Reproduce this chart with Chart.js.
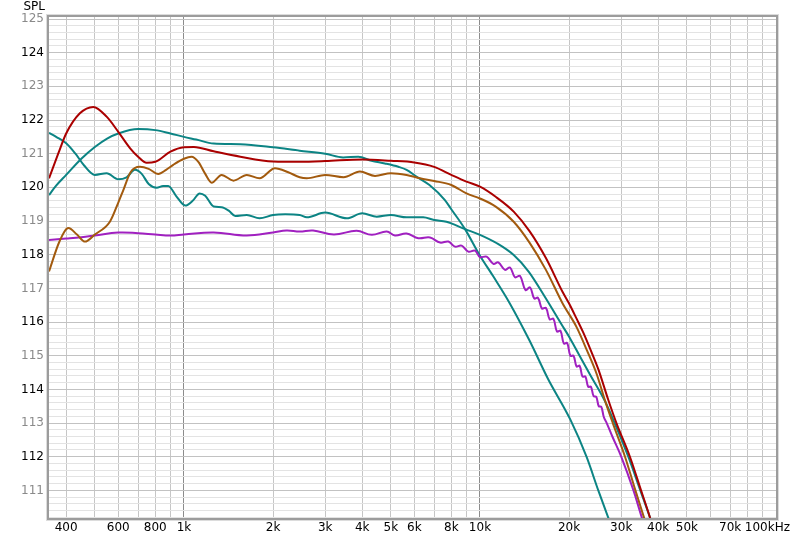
<!DOCTYPE html>
<html><head><meta charset="utf-8">
<script src="https://cdn.jsdelivr.net/npm/chart.js@4.4.1/dist/chart.umd.min.js"></script>
<style>html,body{margin:0;padding:0;background:#fff;overflow:hidden}canvas{display:block}</style>
</head><body>
<canvas id="c" width="800" height="541" style="width:800px;height:541px"></canvas>
<script>
// ---- axis ticks ----
const yLabelValues = [111,112,113,114,115,116,117,118,119,120,121,122,123,124,125];
const xTickValues = [400,600,800,1000,2000,3000,4000,5000,6000,8000,10000,20000,30000,40000,50000,70000,100000];
const xTickLabels = ['400','600','800','1k','2k','3k','4k','5k','6k','8k','10k','20k','30k','40k','50k','70k','100kHz'];
const xGridValues = [400,500,600,700,800,900,1000,2000,3000,4000,5000,6000,7000,8000,9000,10000,20000,30000,40000,50000,60000,70000,80000,90000,100000];

// ---- series (Hz, dB SPL) ----
const redFreq = [350,376,400,445,494,548,600,658,700,748,800,900,1000,1080,1260,1550,2000,2460,3000,4000,5000,6000,7000,8000,9000,10000,11300,13000,14700,16700,19000,20000,21200,22300,23700,25100,27100,28900,32100,35000,37500,38500];
const redSPL  = [120.27,121.0,121.6,122.2,122.39,122.1,121.65,121.16,120.91,120.73,120.76,121.06,121.19,121.2,121.07,120.91,120.77,120.76,120.78,120.83,120.79,120.74,120.61,120.37,120.17,120.02,119.72,119.28,118.7,117.9,116.9,116.55,116.1,115.7,115.15,114.6,113.7,113.0,112.0,111.0,110.2,109.85];

const brownFreq = [350,380,407,435,463,500,562,600,624,660,710,760,819,870,920,1000,1060,1120,1180,1240,1340,1470,1630,1800,2030,2250,2460,2600,3000,3460,3930,4420,5000,5650,6270,7000,8000,9000,10000,11300,13000,14700,16700,19000,21200,23000,24800,26400,28100,30900,33500,35800,37000];
const brownSPL  = [117.5,118.4,118.79,118.6,118.39,118.6,118.98,119.55,119.92,120.45,120.61,120.55,120.4,120.52,120.67,120.85,120.91,120.75,120.4,120.14,120.37,120.2,120.37,120.27,120.57,120.45,120.3,120.27,120.37,120.3,120.47,120.34,120.42,120.37,120.27,120.19,120.07,119.82,119.67,119.43,118.98,118.36,117.55,116.56,115.85,115.15,114.45,113.69,113.0,112.0,111.0,110.2,109.8];

const tealAFreq = [350,370,400,450,500,550,600,700,800,900,1000,1100,1260,1550,2000,2460,3000,3450,3880,4300,4770,5300,5650,6100,6750,7600,8000,8900,10000,11100,12600,14700,17000,20200,22900,25100,27100,28500];
const tealASPL  = [119.77,120.05,120.37,120.85,121.2,121.45,121.6,121.73,121.7,121.6,121.5,121.42,121.3,121.28,121.19,121.09,121.0,120.89,120.91,120.79,120.71,120.61,120.52,120.32,120.07,119.63,119.35,118.76,117.97,117.35,116.56,115.45,114.3,113.1,112.0,111.0,110.2,109.7];

const tealBFreq = [350,370,400,430,460,500,548,600,640,683,720,760,809,850,885,940,1010,1070,1130,1180,1260,1340,1420,1490,1630,1800,2000,2200,2460,2600,3000,3550,4000,4480,5000,5650,6430,7000,7700,8000,8900,10000,11400,13000,14600,16700,18800,20200,21700,23500,26300,28500,31700,34800,37500,38500];
const tealBSPL  = [121.62,121.5,121.31,121.0,120.65,120.37,120.42,120.24,120.3,120.52,120.4,120.1,119.99,120.04,120.04,119.75,119.46,119.6,119.82,119.75,119.43,119.41,119.3,119.15,119.18,119.08,119.18,119.2,119.18,119.11,119.25,119.08,119.23,119.13,119.18,119.11,119.11,119.03,118.98,118.93,118.76,118.59,118.34,117.99,117.5,116.7,115.95,115.5,115.0,114.45,113.69,113.0,112.0,111.0,110.2,109.9];

const purpleFreq = [350,400,450,500,600,700,800,900,1000,1260,1630,2000,2220,2460,2730,3210,3830,4310,4840,5160,5650,6190,6780,7330,7820,8230,8670,9130,9620,10000,10530,11100,11530,12150,12630,13130,13650,14250,14760,15250,15700,16200,16700,17200,17700,18200,18700,19200,19700,20200,20700,21200,21700,22200,22700,23200,23700,24200,24700,25200,25700,26200,26800,28000,30000,33000,35200,36500];
const purpleSPL  = [118.44,118.48,118.52,118.57,118.66,118.64,118.6,118.57,118.6,118.66,118.57,118.66,118.72,118.69,118.72,118.6,118.71,118.59,118.69,118.57,118.63,118.49,118.51,118.36,118.39,118.24,118.27,118.09,118.12,117.93,117.94,117.73,117.77,117.55,117.62,117.33,117.37,116.95,117.03,116.7,116.72,116.4,116.42,116.08,116.1,115.72,115.74,115.36,115.38,115.0,115.0,114.68,114.7,114.38,114.38,114.08,114.08,113.8,113.78,113.5,113.48,113.18,113.0,112.6,112.0,111.0,110.2,109.8];

const pts = (f, v) => f.map((x, i) => ({x: x, y: v[i]}));
const isInt = v => Math.abs(v - Math.round(v)) < 1e-6;

const framePlugin = {
  id: 'frame',
  afterDraw(chart) {
    const ctx = chart.ctx, a = chart.chartArea, xs = chart.scales.x;
    ctx.save();
    ctx.strokeStyle = '#dcdcdc'; ctx.lineWidth = 1;
    ctx.strokeRect(a.left - 2.5, a.top - 2.5, a.right - a.left + 5, a.bottom - a.top + 5);
    ctx.strokeStyle = '#9c9c9c'; ctx.lineWidth = 2;
    ctx.strokeRect(a.left - 1, a.top - 1, a.right - a.left + 2, a.bottom - a.top + 2);
    ctx.fillStyle = '#000';
    ctx.font = '12px "DejaVu Sans"';
    ctx.textAlign = 'right'; ctx.textBaseline = 'middle';
    ctx.fillText('SPL', 45, 7);
    ctx.textAlign = 'center';
    xTickValues.forEach((v, i) => {
      let x = xs.getPixelForValue(v);
      const w = ctx.measureText(xTickLabels[i]).width;
      if (x + w / 2 > chart.width - 10) x = chart.width - 10 - w / 2;
      ctx.fillText(xTickLabels[i], x, 528);
    });
    ctx.restore();
  }
};

new Chart(document.getElementById('c'), {
  type: 'line',
  data: {
    datasets: [
      {data: pts(redFreq, redSPL), borderColor: '#aa0000'},
      {data: pts(brownFreq, brownSPL), borderColor: '#a25a0e'},
      {data: pts(purpleFreq, purpleSPL), borderColor: '#a020c0', cubicInterpolationMode: 'default', tension: 0.4},
      {data: pts(tealBFreq, tealBSPL), borderColor: '#0c8484'},
      {data: pts(tealAFreq, tealASPL), borderColor: '#0c8484'}
    ]
  },
  options: {
    responsive: false, animation: false, devicePixelRatio: 1,
    layout: {padding: {top: 17, right: 24, left: 0, bottom: 0}},
    plugins: {legend: {display: false}, tooltip: {enabled: false}},
    elements: {point: {radius: 0}, line: {borderWidth: 2, cubicInterpolationMode: 'monotone', fill: false}},
    scales: {
      x: {
        type: 'logarithmic', min: 350, max: 100000,
        afterBuildTicks: s => { s.ticks = xGridValues.map(v => ({value: v})); },
        afterFit: s => { s.height = 23; },
        ticks: {display: false},
        grid: {drawTicks: false, lineWidth: 1,
          color: c => (c.tick && (c.tick.value === 1000 || c.tick.value === 10000)) ? '#8c8c8c' : '#c6c6c6'},
        border: {display: false}
      },
      y: {
        type: 'linear', min: 110.18, max: 125.06,
        afterBuildTicks: s => {
          const t = [];
          for (let i = 0; i <= 74; i++) t.push({value: Math.round((110.2 + i * 0.2) * 10) / 10});
          s.ticks = t;
        },
        afterFit: s => { s.width = 49; },
        ticks: {
          autoSkip: false, padding: 5,
          font: {family: 'DejaVu Sans', size: 12},
          color: c => (Math.round(c.tick.value) % 2 === 0) ? '#000000' : '#8a8a8a',
          callback: v => (isInt(v) && yLabelValues.includes(Math.round(v))) ? String(Math.round(v)) : ''
        },
        grid: {drawTicks: false, lineWidth: 1,
          color: c => (c.tick && isInt(c.tick.value)) ? '#c2c2c2' : '#e3e3e3'},
        border: {display: false}
      }
    }
  },
  plugins: [framePlugin]
});
</script>
</body></html>
